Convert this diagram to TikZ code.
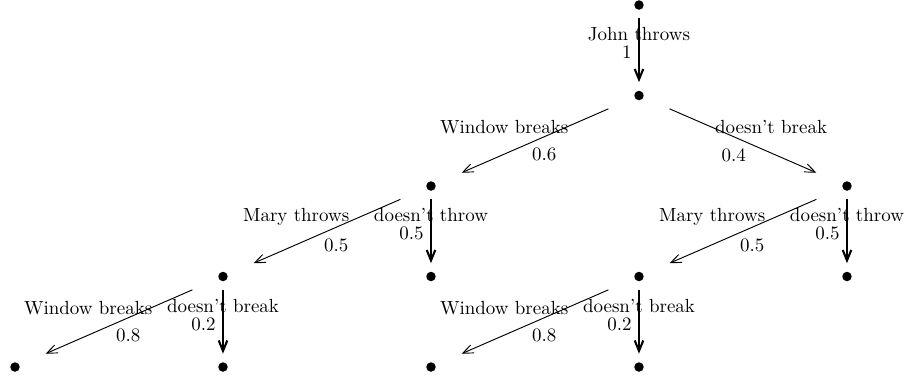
\documentclass[tikz,border=0pt]{standalone}
\usepackage{amsmath}
\usetikzlibrary{arrows.meta}

\begin{document}
\begin{tikzpicture}[
        >={Straight Barb[length=5.5pt, width=4.5pt]},
        pt/.style={rectangle, minimum width=1.6cm, minimum height=0.48cm, inner sep=0pt,
            path picture={\fill (path picture bounding box.center) circle (2.5pt);}},
        side/.style={->, line width=0.5pt},
        down/.style={->, line width=1.1pt},
        lefttop/.style={midway, xshift=-0.57cm, yshift=0.26cm},
        leftbot/.style={midway, xshift=0.17cm, yshift=-0.26cm},
        righttop/.style={midway, xshift=0.52cm, yshift=0.25cm},
        rightbot/.style={midway, xshift=-0.17cm, yshift=-0.26cm},
        midtop/.style={midway, yshift=0.3cm},
        midbot/.style={midway, left, yshift=-0.04cm}
    ]
    \useasboundingbox (-11.834,-6.926) rectangle (4.963,0.093);

    \node[pt] (root) at (0,0) {};
    \node[pt] (jt) at (0,-1.676) {};
    \node[pt] (wb) at (-3.852,-3.352) {};
    \node[pt] (nb) at (3.852,-3.352) {};
    \node[pt] (wbmt) at (-7.704,-5.028) {};
    \node[pt] (wbnt) at (-3.852,-5.028) {};
    \node[pt] (nbmt) at (0,-5.028) {};
    \node[pt] (nbnt) at (3.852,-5.028) {};
    \node[pt] (wbwb) at (-11.556,-6.704) {};
    \node[pt] (wbnb) at (-7.704,-6.704) {};
    \node[pt] (nbwb) at (-3.852,-6.704) {};
    \node[pt] (nbnb) at (0,-6.704) {};

    \draw[down] (root) -- (jt) node[midtop] {John throws} node[midbot] {1};

    \draw[side] (jt) -- (wb) node[lefttop] {Window breaks} node[leftbot] {0.6};
    \draw[side] (jt) -- (nb) node[righttop] {doesn't break} node[rightbot] {0.4};

    \draw[side] (wb) -- (wbmt) node[lefttop] {Mary throws} node[leftbot] {0.5};
    \draw[down] (wb) -- (wbnt) node[midtop] {doesn't throw} node[midbot] {0.5};
    \draw[side] (nb) -- (nbmt) node[lefttop] {Mary throws} node[leftbot] {0.5};
    \draw[down] (nb) -- (nbnt) node[midtop] {doesn't throw} node[midbot] {0.5};

    \draw[side] (wbmt) -- (wbwb) node[lefttop] {Window breaks} node[leftbot] {0.8};
    \draw[down] (wbmt) -- (wbnb) node[midtop] {doesn't break} node[midbot] {0.2};
    \draw[side] (nbmt) -- (nbwb) node[lefttop] {Window breaks} node[leftbot] {0.8};
    \draw[down] (nbmt) -- (nbnb) node[midtop] {doesn't break} node[midbot] {0.2};
\end{tikzpicture}
\end{document}
